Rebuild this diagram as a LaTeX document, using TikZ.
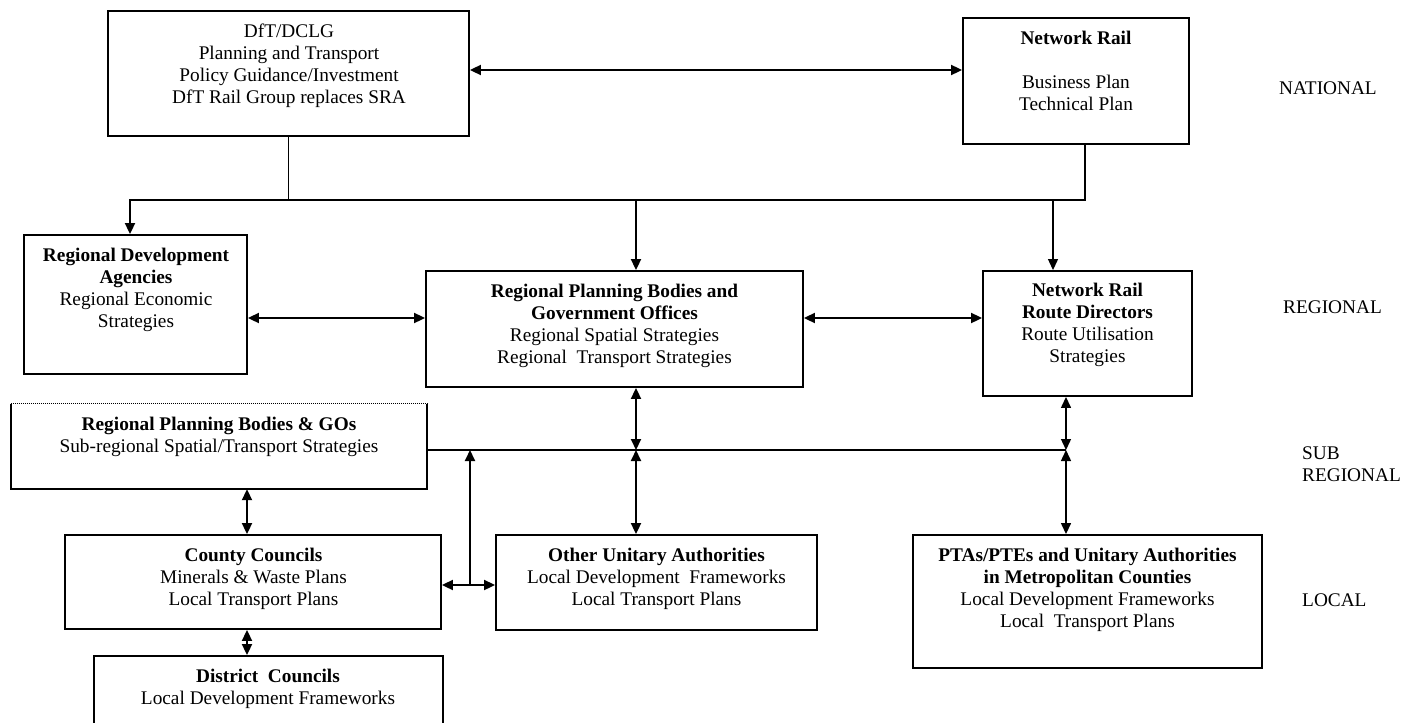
\documentclass[tikz,border=0pt]{standalone}
\usepackage{fontspec}
\setmainfont{Liberation Serif}
\usetikzlibrary{arrows.meta}
\newcommand\fstrut{\rule{0pt}{15pt}}
\begin{document}
\begin{tikzpicture}[x=1pt,y=-1pt,
  box/.style={draw, line width=1.9pt, rectangle, inner sep=0pt},
  txt/.style={anchor=north, align=center, inner sep=0pt, font=\fontsize{19.3}{22.2}\selectfont},
  lvl/.style={anchor=north west, align=left, inner sep=0pt, font=\fontsize{19.3}{21.5}\selectfont},
  conn/.style={line width=2pt},
  thinline/.style={line width=0.9pt},
  tip/.tip={Triangle[length=11pt,width=10pt]},
  dbl/.style={conn, tip-tip},
  sgl/.style={conn, -tip},
  dblthin/.style={line width=1.4pt, tip-tip},
  sglthin/.style={line width=1.2pt, -tip}
]
\useasboundingbox (0,0) rectangle (1401,723);

% boxes
\node[box, minimum width=361pt, minimum height=125pt] (dft) at (288.5,73.5) {};
\node[box, minimum width=226pt, minimum height=126pt] (nrt) at (1076,81) {};
\node[box, minimum width=223pt, minimum height=139pt] (rda) at (135.5,304.5) {};
\node[box, minimum width=377pt, minimum height=116pt] (rpb) at (614.5,329) {};
\node[box, minimum width=209pt, minimum height=125pt] (nrr) at (1087.5,333.5) {};
\node[minimum width=416pt, minimum height=85pt, inner sep=0pt] (gos) at (219,446.5) {};
\draw[line width=1.9pt] (gos.north west) -- (gos.south west) -- (gos.south east) -- (gos.north east);
\draw[line width=1pt, densely dotted] (gos.north west) -- (gos.north east);
\node[box, minimum width=376pt, minimum height=94pt] (cc) at (253,582) {};
\node[box, minimum width=349pt, minimum height=84pt] (dc) at (268.5,698) {};
\node[box, minimum width=321pt, minimum height=95pt] (ou) at (656.5,582.5) {};
\node[box, minimum width=349pt, minimum height=133pt] (pta) at (1087.5,601.5) {};

% texts
\node[txt] (tdft) at (289,22) {\fstrut DfT/DCLG\\Planning and Transport\\Policy Guidance/Investment\\DfT Rail Group replaces SRA};
\node[txt] (tnrt) at (1076,29) {\fstrut\textbf{Network Rail}\\[22.2pt]Business Plan\\Technical Plan};
\node[txt] (trda) at (136,246) {\fstrut\textbf{Regional Development}\\\textbf{Agencies}\\Regional Economic\\Strategies};
\node[txt] (trpb) at (614.5,282) {\fstrut\textbf{Regional Planning Bodies and}\\\textbf{Government Offices}\\Regional Spatial Strategies\\Regional\ \ Transport Strategies};
\node[txt] (tnrr) at (1087.5,281) {\fstrut\textbf{Network Rail}\\\textbf{Route Directors}\\Route Utilisation\\Strategies};
\node[txt] (tgos) at (219,415) {\fstrut\textbf{Regional Planning Bodies \& GOs}\\Sub-regional Spatial/Transport Strategies};
\node[txt] (tcc) at (253.5,546) {\fstrut\textbf{County Councils}\\Minerals \& Waste Plans\\Local Transport Plans};
\node[txt] (tdc) at (268,667) {\fstrut\textbf{District\ \ Councils}\\Local Development Frameworks};
\node[txt] (tou) at (656.5,546) {\fstrut\textbf{Other Unitary Authorities}\\Local Development\ \ Frameworks\\Local Transport Plans};
\node[txt] (tpta) at (1087.5,546) {\fstrut\textbf{PTAs/PTEs and Unitary Authorities}\\\textbf{in Metropolitan Counties}\\Local Development Frameworks\\Local\ \ Transport Plans};

% level labels
\node[lvl] (lnat) at (1279,79.5) {\fstrut NATIONAL};
\node[lvl] (lreg) at (1283,298.5) {\fstrut REGIONAL};
\node[lvl] (lsub) at (1302,444.5) {\fstrut SUB\\REGIONAL};
\node[lvl] (lloc) at (1302,591.5) {\fstrut LOCAL};

% junction coordinates
\coordinate (y70) at (0,70);
\coordinate (y318) at (0,318);
\coordinate (busL) at (130,200);
\coordinate (busR) at (1085,200);
\coordinate (b636) at (636,200);
\coordinate (b1053) at (1053,200);
\coordinate (s636) at (636,450);
\coordinate (s1066) at (1066,450);
\coordinate (s470) at (470,450);
\coordinate (j470) at (470,585);
\coordinate (x247) at (247,0);

% national
\draw[dbl] (dft.east |- y70) -- (nrt.west |- y70);
\draw[thinline] (dft.south) -- (dft.south |- busL);
\draw[sgl] (busR |- nrt.south) -- (busR) -- (busL) -- (busL |- rda.north);
\draw[sgl] (b636) -- (b636 |- rpb.north);
\draw[sglthin] (b1053) -- (b1053 |- nrr.north);

% regional
\draw[dbl] (rda.east |- y318) -- (rpb.west |- y318);
\draw[dbl] (rpb.east |- y318) -- (nrr.west |- y318);
\draw[dbl] (s636 |- rpb.south) -- (s636);
\draw[dbl] (s636) -- (s636 |- ou.north);
\draw[dblthin] (s1066 |- nrr.south) -- (s1066);
\draw[dblthin] (s1066) -- (s1066 |- pta.north);

% sub regional
\draw[conn] (gos.east |- s1066) -- (s1066);
\draw[dbl] (x247 |- gos.south) -- (x247 |- cc.north);
\draw[dbl] (x247 |- cc.south) -- (x247 |- dc.north);
\draw[dbl] (cc.east |- j470) -- (ou.west |- j470);
\draw[sgl] (j470) -- (s470);
\end{tikzpicture}
\end{document}
